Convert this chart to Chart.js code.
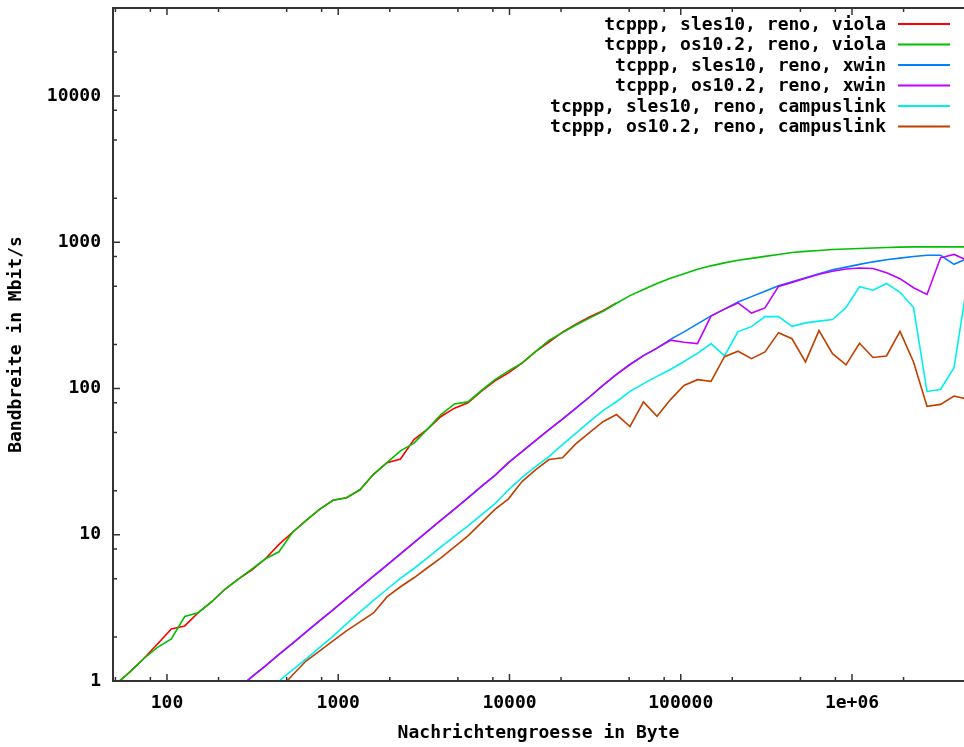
<!DOCTYPE html>
<html>
<head>
<meta charset="utf-8">
<script src="https://cdn.jsdelivr.net/npm/chart.js@4.4.1/dist/chart.umd.min.js"></script>
<style>
  html, body { margin: 0; padding: 0; background: #fff; }
  #chartContainer { width: 964px; height: 747px; }
</style>
</head>
<body>
<div id="chartContainer"><canvas id="bandwidthChart"></canvas></div>
<script>
// Nachrichtengroesse in Byte
const messageSizes = [43, 51, 61, 73, 88, 106, 127, 152, 182, 218, 262, 314, 376, 451, 541, 648, 777, 932,
  1117, 1340, 1607, 1926, 2309, 2769, 3320, 3981, 4774, 5723, 6863, 8228, 9867, 11830, 14186, 17010,
  20393, 24454, 29322, 35156, 42158, 50548, 60600, 72670, 87130, 104470, 125270, 150200, 180090,
  215950, 258920, 310460, 372250, 446350, 535170, 641700, 769400, 922700, 1106400, 1326500,
  1590500, 1907200, 2286800, 2741700, 3287700, 3942000, 4726000];

// Bandbreite in Mbit/s
const slesViola = [0.815, 0.963, 1.16, 1.42, 1.79, 2.27, 2.38, 2.93, 3.47, 4.24, 5.0, 5.75, 6.85, 8.6,
  10.4, 12.5, 14.9, 17.2, 17.9, 20.3, 25.9, 31.1, 33.0, 44.8, 52.8, 64.4, 73.4, 80.0, 96, 113, 128, 149,
  179, 208, 243, 275, 308, 340, 385, null, null, null, null, null, null, null, null, null, null, null,
  null, null, null, null, null, null, null, null, null, null, null, null, null, null, null];
const osViola = [0.815, 0.963, 1.16, 1.42, 1.70, 1.94, 2.76, 2.93, 3.47, 4.24, 5.0, 5.84, 6.85, 7.65,
  10.4, 12.5, 14.9, 17.2, 17.9, 20.3, 25.9, 31.1, 37.5, 42.3, 52.8, 66.4, 78.4, 81.0, 97.2, 115, 132, 149,
  179, 213, 241, 272, 303, 337, 383, 432, 475, 523, 567, 609, 653, 690, 723, 753, 776, 801, 826, 852,
  866, 879, 893, 900, 907, 914, 921, 926, 930, 930, 930, 930, 930];
const slesXwin = [null, null, null, null, null, null, null, null, null, null, 0.894, 1.07, 1.27, 1.52,
  1.81, 2.16, 2.58, 3.07, 3.66, 4.37, 5.21, 6.21, 7.41, 8.84, 10.55, 12.6, 15.0, 17.9, 21.4, 25.5, 31.1,
  37.0, 44.0, 52.4, 61.8, 73.5, 87.5, 105, 125, 146, 168, 189, 217, 244, 277, 314, 349, 390, 425, 462,
  504, 536, 572, 609, 648, 676, 706, 735, 759, 779, 799, 815, 815, 707, 777];
const osXwin = [null, null, null, null, null, null, null, null, null, null, 0.894, 1.07, 1.27, 1.52,
  1.81, 2.16, 2.58, 3.07, 3.66, 4.37, 5.21, 6.21, 7.41, 8.84, 10.55, 12.6, 15.0, 17.9, 21.4, 25.5, 31.1,
  37.0, 44.0, 52.4, 61.8, 73.5, 87.5, 105, 125, 146, 168, 189, 214, 207, 203, 313, 349, 385, 328, 356,
  499, 532, 568, 604, 634, 657, 667, 662, 619, 564, 489, 440, 783, 826, 753];
const slesCampus = [null, null, null, null, null, null, null, null, null, null, null, null, 0.84, 1.0,
  1.19, 1.41, 1.69, 2.02, 2.46, 2.97, 3.56, 4.24, 5.04, 5.88, 6.95, 8.27, 9.76, 11.5, 13.7, 16.3, 20.3,
  24.6, 29.2, 34.2, 41.3, 49.5, 59.3, 70.6, 81.2, 95.7, 108, 121, 135, 153, 174, 203, 167, 245, 265, 310,
  310, 266, 281, 289, 296, 358, 497, 470, 523, 455, 358, 95.5, 98.6, 139, 540];
const osCampus = [null, null, null, null, null, null, null, null, null, null, null, null, null, 0.87,
  1.10, 1.37, 1.60, 1.88, 2.20, 2.54, 2.92, 3.76, 4.41, 5.08, 5.95, 6.95, 8.27, 9.84, 12.1, 14.9, 17.6,
  23.1, 27.8, 32.7, 33.6, 42.0, 50.0, 59.3, 66.4, 55.0, 81.0, 64.5, 84.0, 105, 115, 112, 165, 180, 160,
  178, 241, 219, 152, 249, 173, 145, 204, 163, 167, 246, 152, 75.6, 77.9, 88.9, 84.6];

const seriesLabels = [
  "tcppp, sles10, reno, viola",
  "tcppp, os10.2, reno, viola",
  "tcppp, sles10, reno, xwin",
  "tcppp, os10.2, reno, xwin",
  "tcppp, sles10, reno, campuslink",
  "tcppp, os10.2, reno, campuslink",
];
const seriesValues = [slesViola, osViola, slesXwin, osXwin, slesCampus, osCampus];
const seriesColors = ["#ff0000", "#00c000", "#0080ff", "#c000ff", "#00eeee", "#c04000"];

const xTickValues = [50, 80, 100, 200, 500, 800, 1000, 2000, 5000, 8000, 10000, 20000, 50000, 80000,
  100000, 200000, 500000, 800000, 1000000, 2000000];
const yTickValues = [1, 2, 5, 8, 10, 20, 50, 80, 100, 200, 500, 800, 1000, 2000, 5000, 8000, 10000, 20000];
const xTickLabels = { 100: "100", 1000: "1000", 10000: "10000", 100000: "100000", 1000000: "1e+06" };
const yTickLabels = { 1: "1", 10: "10", 100: "100", 1000: "1000", 10000: "10000" };

const monoFont = "'DejaVu Sans Mono', 'Liberation Mono', monospace";

function isDecade(v) {
  const l = Math.log10(v);
  return Math.abs(l - Math.round(l)) < 1e-9;
}

function toPoints(values) {
  return messageSizes.map((size, i) => ({ x: size, y: values[i] }));
}

// Rahmen, Ticks nach innen und Legende wie bei gnuplot
const gnuplotFrame = {
  id: "gnuplotFrame",
  afterDatasetsDraw(chart) {
    const ctx = chart.ctx;
    const area = chart.chartArea;
    const xs = chart.scales.x;
    const ys = chart.scales.y;
    ctx.save();
    ctx.strokeStyle = "#333333";
    ctx.lineWidth = 2;
    ctx.beginPath();
    ctx.moveTo(area.right + 5, area.top);
    ctx.lineTo(area.left, area.top);
    ctx.lineTo(area.left, area.bottom);
    ctx.lineTo(area.right + 5, area.bottom);
    ctx.stroke();

    ctx.lineWidth = 1.5;
    ctx.beginPath();
    xTickValues.forEach((v) => {
      const px = xs.getPixelForValue(v);
      const len = isDecade(v) ? 7 : 4;
      ctx.moveTo(px, area.bottom);
      ctx.lineTo(px, area.bottom - len);
      ctx.moveTo(px, area.top);
      ctx.lineTo(px, area.top + len);
    });
    yTickValues.forEach((v) => {
      const py = ys.getPixelForValue(v);
      const len = isDecade(v) ? 7 : 4;
      ctx.moveTo(area.left, py);
      ctx.lineTo(area.left + len, py);
    });
    ctx.stroke();

    ctx.font = "bold 18px " + monoFont;
    ctx.textAlign = "right";
    ctx.textBaseline = "middle";
    chart.data.datasets.forEach((ds, i) => {
      const y = 24 + i * 20.5;
      ctx.fillStyle = "#000000";
      ctx.fillText(ds.label, 886, y + 1);
      ctx.strokeStyle = ds.borderColor;
      ctx.lineWidth = 2;
      ctx.beginPath();
      ctx.moveTo(898, y);
      ctx.lineTo(950, y);
      ctx.stroke();
    });
    ctx.restore();
  },
};

function createBandwidthChart(canvaId) {
  const ctx = document.getElementById(canvaId).getContext("2d");
  const datasets = seriesLabels.map((label, i) => ({
    label: label,
    data: toPoints(seriesValues[i]),
    borderColor: seriesColors[i],
    backgroundColor: seriesColors[i],
    borderWidth: 1.6,
    pointRadius: 0,
    tension: 0,
    fill: false,
    order: seriesLabels.length - i,
  }));

  return new Chart(ctx, {
    type: "line",
    data: { datasets: datasets },
    options: {
      responsive: true,
      maintainAspectRatio: false,
      animation: false,
      layout: { padding: { top: 8, right: 0, bottom: 0, left: 0 }, autoPadding: false },
      font: { family: monoFont, weight: "bold", size: 18 },
      plugins: {
        legend: { display: false },
        tooltip: { enabled: false },
      },
      scales: {
        x: {
          type: "logarithmic",
          min: 48.4,
          max: 4508000,
          grid: { display: false, drawTicks: false },
          border: { display: false },
          afterBuildTicks: (scale) => {
            scale.ticks = xTickValues.map((v) => ({ value: v }));
          },
          afterFit: (scale) => {
            scale.height = 66;
            scale.paddingLeft = 0;
            scale.paddingRight = 0;
          },
          ticks: {
            autoSkip: false,
            maxRotation: 0,
            padding: 12,
            color: "#000000",
            font: { family: monoFont, weight: "bold", size: 18 },
            callback: (value) => xTickLabels[value] || "",
          },
          title: {
            display: true,
            text: "Nachrichtengroesse in Byte",
            color: "#000000",
            font: { family: monoFont, weight: "bold", size: 18 },
            padding: { top: 0, bottom: 3 },
          },
        },
        y: {
          type: "logarithmic",
          min: 1,
          max: 40000,
          grid: { display: false, drawTicks: false },
          border: { display: false },
          afterBuildTicks: (scale) => {
            scale.ticks = yTickValues.map((v) => ({ value: v }));
          },
          afterFit: (scale) => {
            scale.width = 113;
            scale.paddingTop = 0;
            scale.paddingBottom = 0;
          },
          ticks: {
            autoSkip: false,
            padding: 12,
            color: "#000000",
            font: { family: monoFont, weight: "bold", size: 18 },
            callback: (value) => yTickLabels[value] || "",
          },
          title: {
            display: true,
            text: "Bandbreite in Mbit/s",
            color: "#000000",
            font: { family: monoFont, weight: "bold", size: 18 },
            padding: { top: 6, bottom: 0 },
          },
        },
      },
    },
    plugins: [gnuplotFrame],
  });
}

createBandwidthChart("bandwidthChart");
</script>
</body>
</html>
